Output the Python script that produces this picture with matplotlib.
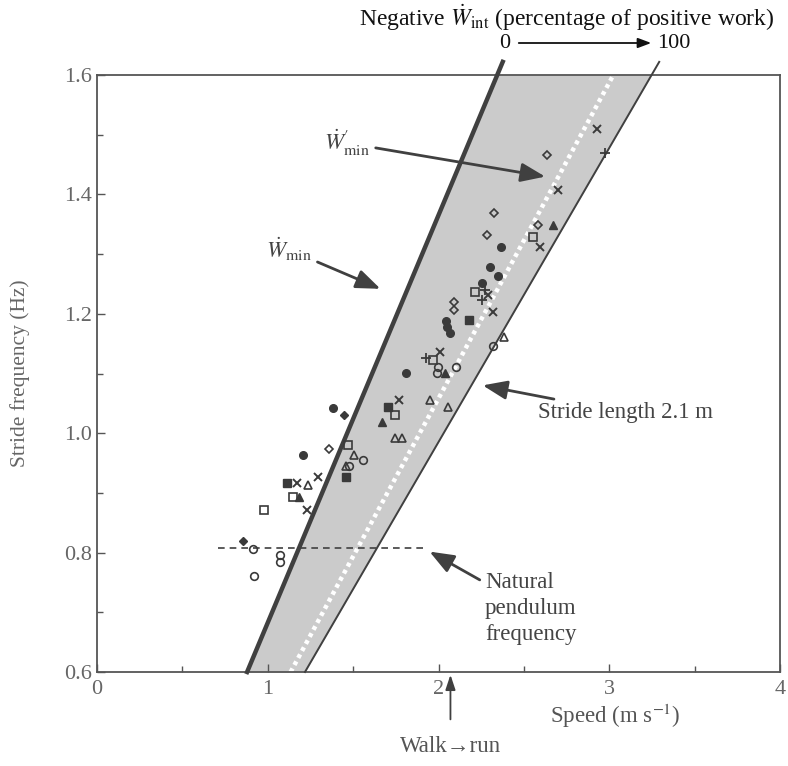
import numpy as np
import matplotlib
matplotlib.use("Agg")
import matplotlib.pyplot as plt
from matplotlib.ticker import MultipleLocator

plt.rcParams['font.family'] = ['Liberation Serif', 'DejaVu Serif']
plt.rcParams['mathtext.fontset'] = 'stix'

# stride lengths (m) of the guide lines, f = v / L
L_wmin = 1.465      # thick line, W_min
L_dotted = 1.89     # white dotted line
L_edge = 2.03       # right edge of band (stride length 2.1 m)
pendulum_f = 0.808
pendulum_v = [0.71, 1.94]
walk_run_v = 2.07

# measured points: (speed m/s, stride frequency Hz)
filled_circle_v = [1.206, 1.382, 1.810, 2.366, 2.302, 2.348, 2.255, 2.044, 2.050, 2.067]
filled_circle_f = [0.963, 1.042, 1.101, 1.312, 1.278, 1.263, 1.252, 1.188, 1.178, 1.168]
open_circle_v = [0.914, 1.072, 1.072, 0.919, 1.558, 1.476, 1.997, 1.991, 2.102, 2.319]
open_circle_f = [0.806, 0.796, 0.784, 0.761, 0.955, 0.945, 1.111, 1.101, 1.111, 1.146]
filled_diamond_v = [1.447, 0.855]
filled_diamond_f = [1.030, 0.819]
open_diamond_v = [1.359, 2.325, 2.284, 2.091, 2.091, 2.635, 2.583]
open_diamond_f = [0.974, 1.369, 1.332, 1.220, 1.206, 1.466, 1.349]
open_square_v = [0.978, 1.148, 1.470, 1.745, 2.214, 1.968, 2.553]
open_square_f = [0.871, 0.893, 0.980, 1.030, 1.237, 1.123, 1.329]
filled_square_v = [1.113, 1.458, 1.704, 2.179]
filled_square_f = [0.917, 0.927, 1.044, 1.190]
cross_v = [1.171, 1.294, 1.230, 1.769, 2.009, 2.290, 2.319, 2.594, 2.700, 2.928]
cross_f = [0.917, 0.927, 0.871, 1.056, 1.136, 1.231, 1.203, 1.312, 1.407, 1.510]
plus_v = [1.927, 2.272, 2.255, 2.975]
plus_f = [1.126, 1.240, 1.223, 1.469]
open_tri_v = [1.236, 1.505, 1.458, 1.745, 1.786, 1.950, 2.056, 2.384]
open_tri_f = [0.913, 0.963, 0.945, 0.992, 0.992, 1.056, 1.044, 1.161]
filled_tri_v = [1.183, 1.669, 2.038, 2.671]
filled_tri_f = [0.893, 1.019, 1.101, 1.349]

x_ticks = [0, 1, 2, 3, 4]
y_ticks = [0.6, 0.8, 1.0, 1.2, 1.4, 1.6]

ink = '#3a3a3a'
fig = plt.figure(figsize=(7.88, 7.66), dpi=100)
ax = fig.add_axes([97/788, 1-672/766, 683/788, 597/766])

# shaded band between W_min line and the 2.1 m stride length line
f_band = np.linspace(0.6, 1.6, 50)
ax.fill_betweenx(f_band, f_band*L_wmin, f_band*L_edge, color='#cbcbcb', lw=0, zorder=1)

f_line = np.linspace(0.6, 1.622, 50)
ax.plot(f_line*L_wmin, f_line, color='#404040', lw=3.2, clip_on=False, zorder=3)
ax.plot(f_line*L_edge, f_line, color='#404040', lw=1.4, clip_on=False, zorder=3)
ax.plot(f_band*L_dotted, f_band, color='white', lw=3.2, ls=(0, (0.9, 0.9)),
        solid_capstyle='butt', zorder=2)

ax.plot(pendulum_v, [pendulum_f, pendulum_f], color='#404040', lw=1.2, ls=(0, (4, 3)), zorder=2)

ms = 5.5
ax.plot(filled_circle_v, filled_circle_f, 'o', ms=ms, color=ink, zorder=4)
ax.plot(open_circle_v, open_circle_f, 'o', ms=ms, mfc='none', mec=ink, mew=1.2, zorder=4)
ax.plot(filled_diamond_v, filled_diamond_f, 'D', ms=ms-1, color=ink, zorder=4)
ax.plot(open_diamond_v, open_diamond_f, 'D', ms=ms-1, mfc='none', mec=ink, mew=1.2, zorder=4)
ax.plot(open_square_v, open_square_f, 's', ms=ms, mfc='none', mec=ink, mew=1.2, zorder=4)
ax.plot(filled_square_v, filled_square_f, 's', ms=ms, color=ink, zorder=4)
ax.plot(cross_v, cross_f, 'x', ms=6, mec=ink, mew=1.4, zorder=4)
ax.plot(plus_v, plus_f, '+', ms=6.5, mec=ink, mew=1.3, zorder=4)
ax.plot(open_tri_v, open_tri_f, '^', ms=ms, mfc='none', mec=ink, mew=1.2, zorder=4)
ax.plot(filled_tri_v, filled_tri_f, '^', ms=ms, color=ink, zorder=4)

ax.set_xlim(0, 4)
ax.set_ylim(0.6, 1.6)
ax.set_xticks(x_ticks)
ax.set_xticklabels([str(t) for t in x_ticks])
ax.set_yticks(y_ticks)
ax.set_yticklabels(['%.1f' % t for t in y_ticks])
ax.xaxis.set_minor_locator(MultipleLocator(0.5))
ax.yaxis.set_minor_locator(MultipleLocator(0.1))
ax.tick_params(which='both', direction='in', colors='#555555', labelcolor='#666666',
               labelsize=16, top=False, right=False)
ax.tick_params(which='major', length=6, width=1)
ax.tick_params(which='minor', length=4, width=1)
ax.tick_params(axis='x', pad=6)
for s in ax.spines.values():
    s.set_color('#555555')
    s.set_linewidth(1.3)

ax.set_ylabel('Stride frequency (Hz)', fontsize=15.5, color='#666666', labelpad=25)
fig.text(615/788, 1-716/766, r'Speed (m s$^{-1}$)', fontsize=16.5, color='#555555',
         ha='center', va='center')

arrow = dict(arrowstyle='-|>,head_length=0.9,head_width=0.35', color='#404040', lw=2)
txt = dict(fontsize=16.5, color='#444444')

ax.annotate(r'$\dot{W}_{\rm min}$', xy=(1.675, 1.240), xytext=(1.26, 1.307),
            ha='right', va='center', arrowprops=arrow, **txt)
ax.annotate(r"$\dot{W}^{\prime}_{\rm min}$", xy=(2.641, 1.429), xytext=(1.60, 1.486),
            ha='right', va='center', arrowprops=arrow, **txt)
ax.annotate('Stride length 2.1 m', xy=(2.243, 1.081), xytext=(2.583, 1.034),
            ha='left', va='center', arrowprops=arrow, **txt)
ax.annotate('Natural\npendulum\nfrequency', xy=(1.933, 0.804), xytext=(2.272, 0.767),
            ha='left', va='top', linespacing=1.3, arrowprops=arrow, **txt)
ax.annotate('', xy=(walk_run_v, 0.6), xytext=(walk_run_v, 0.516),
            arrowprops=dict(arrowstyle='-|>,head_length=0.9,head_width=0.3',
                            color='#404040', lw=1.3), annotation_clip=False)
ax.text(walk_run_v, 0.475, u'Walk\u2192run', ha='center', va='center',
        fontsize=16.5, color='#555555', clip_on=False)

# header with the negative work scale
fig.text(567/788, 1-18/766, r'Negative $\dot{W}_{\rm int}$ (percentage of positive work)',
         fontsize=17, color='#111111', ha='center', va='center')
fig.text(505/788, 1-43/766, '0', fontsize=16, color='#111111', ha='center', va='center')
fig.text(657/788, 1-43/766, '100', fontsize=16, color='#111111', ha='left', va='center')
fig.add_artist(matplotlib.patches.FancyArrowPatch(
    (516/788, 1-43/766), (654/788, 1-43/766), transform=fig.transFigure,
    arrowstyle='-|>,head_length=8,head_width=3', color='#111111', lw=1.3))

fig.savefig('out.png', dpi=100)
